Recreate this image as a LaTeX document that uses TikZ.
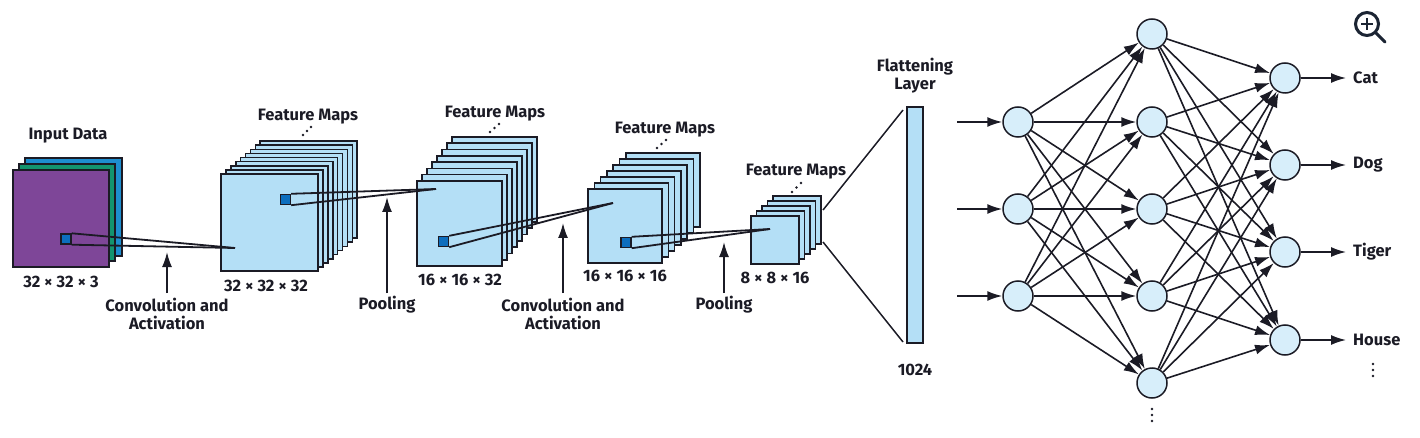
\documentclass[tikz,border=0pt]{standalone}
\usepackage{fontspec}
\setmainfont{Fira Sans}
\usetikzlibrary{arrows.meta}
\definecolor{ink}{HTML}{1B1B25}
\definecolor{laylight}{HTML}{B4DFF6}
\definecolor{laypurple}{HTML}{7E4698}
\definecolor{laygreen}{HTML}{13946F}
\definecolor{layblue}{HTML}{1D8ECF}
\definecolor{sqblue}{HTML}{0D6EBE}
\definecolor{nfill}{HTML}{D7EEFA}
\definecolor{iconc}{HTML}{1B2433}
\begin{document}
\begin{tikzpicture}[x=1pt,y=-1pt,
  lay/.style={fill=laylight, draw=ink, line width=1.6},
  face/.style={lay, inner sep=0, outer sep=0, anchor=north west},
  sq/.style={fill=sqblue, draw=ink, line width=1.4, minimum size=10, inner sep=0},
  proj/.style={draw=ink, line width=1.8},
  lbl/.style={font=\bfseries\fontsize{16.5}{18}\selectfont, text=ink, inner sep=1, align=center},
  uparr/.style={draw=ink, line width=1.7, -{Latex[length=15,width=10]}},
  nn/.style={circle, minimum size=30, fill=nfill, draw=ink, line width=1.5, inner sep=0},
  conn/.style={draw=ink, line width=1.6, -{Latex[length=15,width=10]}},
  dot/.style={fill=ink, draw=none, circle, inner sep=0, minimum size=2.6}
]
\useasboundingbox (0,0) rectangle (1420,438);

% ---------- input data ----------
\draw[lay, fill=layblue] (25,158) rectangle (122,256);
\draw[lay, fill=laygreen] (19,164) rectangle (115,261);
\node[face, fill=laypurple, minimum width=96, minimum height=97] (in) at (13,170) {};
\node[lbl] (tin) at (68,136) {Input Data};
\node[lbl] (din) at (61,282) {32 × 32 × 3};

% ---------- stack 1 ----------
\foreach \i in {8,7,...,1} \draw[lay] ({221+4.9*\i},{174-4.1*\i}) rectangle ++(97,97);
\node[face, minimum size=97] (f1) at (221,174) {};
\node[lbl] (tf1) at (308,117) {Feature Maps};
\node[dot] (d1a) at (303,135) {}; \node[dot] (d1b) at (307,131) {}; \node[dot] (d1c) at (311,127) {};
\node[lbl] (df1) at (266,286) {32 × 32 × 32};

% ---------- stack 2 ----------
\foreach \i in {7,6,...,1} \draw[lay] ({417+5*\i},{181-6.3*\i}) rectangle ++(85,85);
\node[face, minimum size=85] (f2) at (417,181) {};
\node[lbl] (tf2) at (495,114) {Feature Maps};
\node[dot] (d2a) at (490,132) {}; \node[dot] (d2b) at (494.5,128) {}; \node[dot] (d2c) at (499,124) {};
\node[lbl] (df2) at (460,280) {16 × 16 × 32};

% ---------- stack 3 ----------
\foreach \i in {6,5,...,1} \draw[lay] ({588+6.3*\i},{189-6*\i}) rectangle ++(74,74);
\node[face, minimum size=74] (f3) at (588,189) {};
\node[lbl] (tf3) at (665,130) {Feature Maps};
\node[dot] (d3a) at (657,148) {}; \node[dot] (d3b) at (661.5,144) {}; \node[dot] (d3c) at (666,140) {};
\node[lbl] (df3) at (625,276) {16 × 16 × 16};

% ---------- stack 4 ----------
\foreach \i in {4,3,2,1} \draw[lay] ({751+5.5*\i},{216-5*\i}) rectangle ++(48,48);
\node[face, minimum size=48] (f4) at (751,216) {};
\node[lbl] (tf4) at (796,172) {Feature Maps};
\node[dot] (d4a) at (792,192) {}; \node[dot] (d4b) at (796.5,187.5) {}; \node[dot] (d4c) at (801,183) {};
\node[lbl] (df4) at (775,278) {8 × 8 × 16};

% ---------- receptive-field squares and projections ----------
\node[sq] (s0) at (66,239) {};
\node[sq] (s1) at (285.5,199.5) {};
\node[sq] (s2) at (443.5,241.5) {};
\node[sq] (s3) at (626,242.5) {};
\coordinate (p1) at (235,248);
\coordinate (p2) at (436,189);
\coordinate (p3) at (613,203);
\coordinate (p4) at (770,229);
\draw[proj] (s0.north east) -- (p1); \draw[proj] (s0.south east) -- (p1);
\draw[proj] (s1.north east) -- (p2); \draw[proj] (s1.south east) -- (p2);
\draw[proj] (s2.north east) -- (p3); \draw[proj] (s2.south east) -- (p3);
\draw[proj] (s3.north east) -- (p4); \draw[proj] (s3.south east) -- (p4);

% ---------- operation labels ----------
\node[lbl] (conv1) at (167,314) {Convolution and\\Activation};
\node[lbl] (pool1) at (387,305) {Pooling};
\node[lbl] (conv2) at (563,314) {Convolution and\\Activation};
\node[lbl] (pool2) at (724,305) {Pooling};
\coordinate (a1) at (167,252);
\coordinate (a2) at (387,197);
\coordinate (a3) at (563,223);
\coordinate (a4) at (724,242);
\coordinate (b1) at (167,293);
\coordinate (b2) at (387,293);
\coordinate (b3) at (563,293);
\coordinate (b4) at (724,293);
\draw[uparr] (b1) -- (a1);
\draw[uparr] (b2) -- (a2);
\draw[uparr] (b3) -- (a3);
\draw[uparr] (b4) -- (a4);

% ---------- flattening ----------
\node[lay, inner sep=0, minimum width=16, minimum height=236] (fl) at (915,225) {};
\node[lbl] (tfl) at (915,76) {Flattening\\Layer};
\node[lbl] (nfl) at (915,370) {1024};
\coordinate (e1) at (823,210);
\coordinate (e2) at (823,242);
\coordinate (g1) at (903,110);
\coordinate (g2) at (903,342);
\draw[proj, line width=1.5] (e1) -- (g1);
\draw[proj, line width=1.5] (e2) -- (g2);

% ---------- dense network ----------
\foreach \n/\y in {1/122,2/209,3/296} {
  \node[nn] (i\n) at (1018,\y) {};
  \coordinate (x\n) at (957,\y);
}
\foreach \n/\y in {1/34,2/122,3/209,4/296,5/383} \node[nn] (h\n) at (1152,\y) {};
\foreach \n/\y/\t in {1/78/Cat,2/165/Dog,3/252/Tiger,4/340/House} {
  \node[nn] (o\n) at (1285,\y) {};
  \coordinate (y\n) at (1346,\y);
  \node[lbl, anchor=west] (t\n) at (1352,\y) {\t};
}
\foreach \n in {1,2,3} \draw[conn] (x\n) -- (i\n);
\foreach \a in {1,2,3} \foreach \b in {1,...,5} \draw[conn] (i\a) -- (h\b);
\foreach \a in {1,...,5} \foreach \b in {1,...,4} \draw[conn] (h\a) -- (o\b);
\foreach \n in {1,...,4} \draw[conn] (o\n) -- (y\n);
\node[dot] (hd1) at (1152,409) {}; \node[dot] (hd2) at (1152,415) {}; \node[dot] (hd3) at (1152,421) {};
\node[dot] (od1) at (1373,364) {}; \node[dot] (od2) at (1373,370) {}; \node[dot] (od3) at (1373,376) {};

% ---------- zoom icon ----------
\draw[iconc, line width=3] (1367,24) circle (11.5);
\draw[iconc, line width=3, line cap=round] (1376,33) -- (1385,42);
\draw[iconc, line width=2.6] (1361,24) -- (1373,24) (1367,18) -- (1367,30);
\end{tikzpicture}
\end{document}
